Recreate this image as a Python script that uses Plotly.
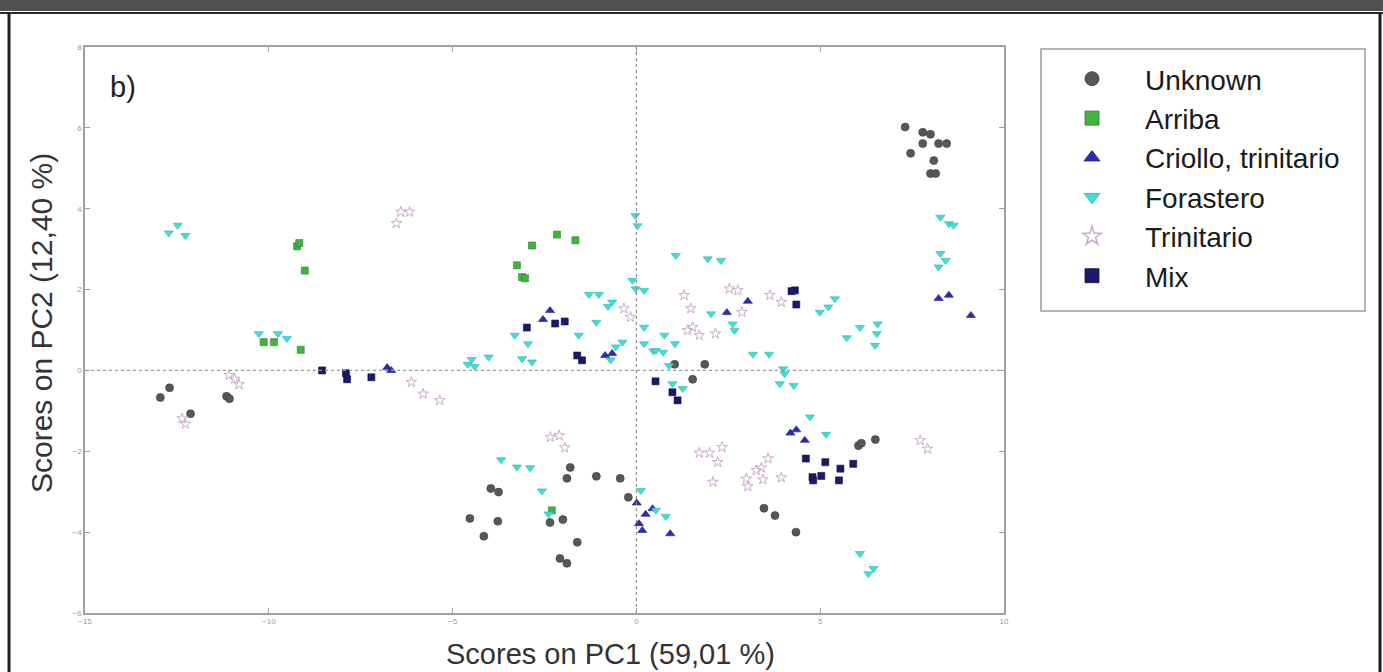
import plotly.graph_objects as go

# ---------------- data (PC1, PC2 scores) ----------------
unknown_x = [7.31, 7.79, 8.00, 7.79, 8.22, 8.44, 7.46, 8.09, 8.00, 8.14,
             -12.95, -12.70, -12.13, -11.15, -11.07,
             -3.96, -3.75, -4.53, -3.77, -4.15, -1.80, -1.89, -1.09, -0.44, -0.22,
             -2.35, -2.00, -1.61, -2.08, -1.89,
             1.04, 1.86, 1.53, 6.04, 6.12, 6.50, 3.47, 3.77, 4.34]
unknown_y = [6.02, 5.89, 5.84, 5.61, 5.61, 5.61, 5.37, 5.19, 4.87, 4.87,
             -0.67, -0.43, -1.07, -0.64, -0.70,
             -2.92, -3.01, -3.66, -3.73, -4.10, -2.40, -2.67, -2.62, -2.67, -3.14,
             -3.76, -3.69, -4.25, -4.65, -4.77,
             0.15, 0.15, -0.22, -1.86, -1.80, -1.71, -3.41, -3.59, -4.00]

arriba_x = [-9.23, -9.17, -9.02, -10.14, -9.86, -9.13, -2.84, -2.16, -1.66, -3.25, -3.11, -3.03, -2.30]
arriba_y = [3.07, 3.15, 2.47, 0.70, 0.70, 0.51, 3.09, 3.36, 3.22, 2.60, 2.31, 2.28, -3.46]

criollo_x = [-6.78, -6.67, -2.35, -2.54, -0.85, -0.66, 0.01, 0.25, 0.44, 0.07, 0.16, 0.92,
             4.19, 4.35, 4.58, 3.03, 2.46, 8.22, 8.50, 9.10]
criollo_y = [0.07, 0.00, 1.48, 1.26, 0.37, 0.42, -3.28, -3.56, -3.42, -3.79, -3.96, -4.04,
             -1.55, -1.47, -1.73, 1.71, 1.43, 1.78, 1.86, 1.36]

forastero_x = [-12.72, -12.48, -12.27, -10.27, -9.75, -9.51, -4.59, -4.48, -4.40, -4.02,
               -3.11, -2.84, -3.31, -2.95, -1.29, -1.02, -0.77, -0.66, -1.09, -1.57,
               -0.56, -0.38, -0.70, -0.11, -0.02, 0.21, 0.21, 0.21, 0.46, 0.73,
               0.76, 1.05, 1.07, 1.94, 2.30, 2.03, 2.62, 2.67, 0.89, 0.98,
               1.26, -0.03, 0.03, 3.17, 3.61, 3.99, 4.03, 3.90, 4.28, 4.72,
               4.99, 5.22, 5.40, 5.72, 6.08, 6.56, 6.54, 6.49, 8.27, 8.50,
               8.63, 8.27, 8.41, 8.22, 5.16, 6.08, 6.31, 6.45, -3.68, -3.25,
               -2.89, -2.57, -2.39, 0.12, 0.80, 0.53, 0.53]
forastero_y = [3.40, 3.59, 3.34, 0.91, 0.91, 0.79, 0.15, 0.27, 0.10, 0.33,
               0.29, 0.21, 0.87, 0.66, 1.88, 1.88, 1.58, 1.69, 1.19, 0.87,
               0.58, 0.70, 0.26, 2.23, 2.02, 1.98, 1.07, 0.66, 0.48, 0.45,
               0.87, 0.66, 2.84, 2.76, 2.72, 1.40, 1.15, 0.99, 0.12, -0.33,
               -0.45, 3.83, 3.58, 0.40, 0.40, 0.04, -0.08, -0.33, -0.37, -1.15,
               1.44, 1.57, 1.77, 0.81, 1.06, 1.15, 0.91, 0.62, 3.79, 3.63,
               3.59, 2.89, 2.72, 2.56, -1.58, -4.53, -5.03, -4.90, -2.21, -2.39,
               -2.41, -2.98, -3.55, -2.97, -3.61, -3.46, 0.49]

trinitario_x = [-6.53, -6.41, -6.17, -11.08, -10.93, -10.81, -12.36, -12.27, -6.12, -5.80,
                -5.35, -0.34, -0.16, 1.30, 1.48, 1.39, 1.53, 1.71, 2.15, 2.53,
                2.76, 2.87, 3.63, 3.94, -2.34, -2.10, -1.95, 1.71, 1.99, 2.33,
                2.21, 2.08, 3.26, 2.99, 3.03, 3.40, 3.58, 3.44, 3.94, 7.72, 7.92]
trinitario_y = [3.64, 3.92, 3.92, -0.12, -0.21, -0.35, -1.19, -1.32, -0.29, -0.58,
                -0.74, 1.53, 1.32, 1.86, 1.53, 0.99, 1.07, 0.87, 0.91, 2.02,
                1.98, 1.44, 1.86, 1.69, -1.65, -1.61, -1.91, -2.04, -2.04, -1.90,
                -2.27, -2.76, -2.47, -2.68, -2.87, -2.41, -2.18, -2.70, -2.65, -1.73, -1.94]

mix_x = [-8.55, -7.90, -7.87, -7.21, -2.98, -2.21, -1.95, -1.61, -1.48, 0.52, 0.98, 1.12,
         4.61, 5.14, 5.90, 4.79, 5.03, 5.55, 5.51, 4.81, 4.31, 4.35, 4.22]
mix_y = [0.00, -0.07, -0.22, -0.17, 1.06, 1.16, 1.21, 0.37, 0.25, -0.27, -0.54, -0.74,
         -2.18, -2.27, -2.31, -2.64, -2.61, -2.43, -2.72, -2.72, 1.98, 1.63, 1.96]

x_ticks = [-15, -10, -5, 0, 5, 10]
y_ticks = [-6, -4, -2, 0, 2, 4, 6, 8]
x_range = [-15, 10]
y_range = [-6, 8]

groups = [
    ("Unknown", unknown_x, unknown_y, "circle", "#575757", "#3a3a3a", 8),
    ("Arriba", arriba_x, arriba_y, "square", "#3fb43f", "#2f7a2f", 7),
    ("Criollo, trinitario", criollo_x, criollo_y, "triangle-up", "#2b2bba", "#1e1e80", 8),
    ("Forastero", forastero_x, forastero_y, "triangle-down", "#3ee0d6", "#2fb0a8", 8),
    ("Trinitario", trinitario_x, trinitario_y, "star-open", "#cbaacb", "#cbaacb", 8),
    ("Mix", mix_x, mix_y, "square", "#1a1a6a", "#10104a", 7),
]

# ---------------- figure geometry ----------------
W, H = 1383, 672
L, R, T, B = 85, 1004, 47, 613  # plot area in pixels


def px(xp):
    return (xp - L) / (R - L)


def py(yp):
    return (B - yp) / (B - T)


FONT = "Liberation Sans, Arial, sans-serif"

fig = go.Figure()

for name, xs, ys, sym, col, edge, sz in groups:
    fig.add_trace(go.Scatter(
        x=xs, y=ys, mode="markers", name=name, showlegend=False, legendgroup=name,
        marker=dict(symbol=sym, size=sz, color=col,
                    line=dict(color=edge, width=1 if sym == "star-open" else 0.6)),
        hoverinfo="x+y+name"))

# legend entries (bigger symbols)
for name, xs, ys, sym, col, edge, sz in groups:
    fig.add_trace(go.Scatter(
        x=[None], y=[None], mode="markers", name=name, showlegend=True, legendgroup=name,
        marker=dict(symbol=sym, size=14, color=col,
                    line=dict(color=edge, width=1.5 if sym == "star-open" else 0.8))))

axis_common = dict(
    showgrid=False, zeroline=False, showline=True, linecolor="#a0a0a0", linewidth=1.5,
    mirror="ticks", ticks="inside", ticklen=5, tickcolor="#a0a0a0", tickwidth=1,
    tickfont=dict(family=FONT, size=8, color="#9a9a9a"),
)

fig.update_xaxes(range=x_range, tickvals=x_ticks, **axis_common)
fig.update_yaxes(range=y_range, tickvals=y_ticks, **axis_common)

shapes = [
    # dashed reference lines through origin
    dict(type="line", xref="x", yref="paper", x0=0, x1=0, y0=0, y1=1,
         line=dict(color="#8c8c8c", width=1.2, dash="3px,3px")),
    dict(type="line", xref="paper", yref="y", x0=0, x1=1, y0=0, y1=0,
         line=dict(color="#a09a9a", width=1.2, dash="3px,3px")),
    # legend box
    dict(type="rect", xref="paper", yref="paper", x0=px(1041), x1=px(1365), y0=py(311), y1=py(49),
         line=dict(color="#9a9a9a", width=1.5), fillcolor="rgba(0,0,0,0)"),
    # outer frame
    dict(type="rect", xref="paper", yref="paper", x0=px(0), x1=px(W), y0=py(0), y1=py(11),
         line=dict(width=0), fillcolor="#505050", layer="above"),
    dict(type="line", xref="paper", yref="paper", x0=px(0), x1=px(W), y0=py(13), y1=py(13),
         line=dict(color="#2a2a2a", width=2)),
    dict(type="line", xref="paper", yref="paper", x0=px(9), x1=px(9), y0=py(12), y1=py(H),
         line=dict(color="#1e1e1e", width=3)),
    dict(type="line", xref="paper", yref="paper", x0=px(1380), x1=px(1380), y0=py(12), y1=py(H),
         line=dict(color="#1e1e1e", width=3)),
]

annotations = [
    dict(text="b)", xref="paper", yref="paper", x=px(108), y=py(87), xanchor="left", yanchor="middle",
         showarrow=False, font=dict(family=FONT, size=29, color="#222")),
    dict(text="Scores on PC1 (59,01 %)", xref="paper", yref="paper", x=px(610), y=py(654),
         xanchor="center", yanchor="middle", showarrow=False,
         font=dict(family=FONT, size=29, color="#333")),
    dict(text="Scores on PC2 (12,40 %)", xref="paper", yref="paper", x=px(41), y=py(323),
         xanchor="center", yanchor="middle", textangle=-90, showarrow=False,
         font=dict(family=FONT, size=30, color="#333")),
]

fig.update_layout(
    width=W, height=H,
    margin=dict(l=L, r=W - R, t=T, b=H - B),
    paper_bgcolor="white", plot_bgcolor="white",
    shapes=shapes, annotations=annotations,
    legend=dict(x=px(1039), y=py(54), xanchor="left", yanchor="top",
                bgcolor="rgba(0,0,0,0)", borderwidth=0, itemwidth=96,
                tracegroupgap=0,
                font=dict(family=FONT, size=28, color="#1a1a1a")),
)

fig.write_html("out.html",
               config={"displayModeBar": False},
               post_script="document.body.style.margin='0px';document.body.style.overflow='hidden';")
